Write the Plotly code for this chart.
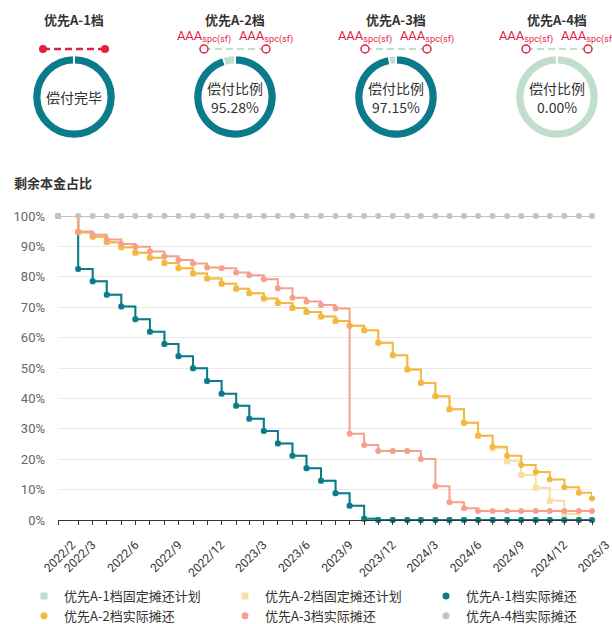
import plotly.graph_objects as go

W, H = 612, 624

# ---------------- data ----------------
tranches = ["优先A-1档", "优先A-2档", "优先A-3档", "优先A-4档"]
paid_ratio = [100.0, 95.28, 97.15, 0.00]
center_label = ["偿付完毕", "偿付比例", "偿付比例", "偿付比例"]
show_ratio = [False, True, True, True]
rating_initial = ["", "AAA", "AAA", "AAA"]
rating_current = ["", "AAA", "AAA", "AAA"]

start_date = "2022-02-11"
pay_dates = [f"{2022 + (m - 1) // 12}-{(m - 1) % 12 + 1:02d}-26" for m in range(3, 40)]
dates = [start_date] + pay_dates
label_dates = [start_date] + [d for i, d in enumerate(pay_dates) if i == 0 or int(d[5:7]) % 3 == 0]
label_text = ["2022/2"] + [f"{int(d[:4])}/{int(d[5:7])}" for d in label_dates[1:]]

a1_actual = [100, 82.6, 78.5, 74.1, 70.2, 66.0, 61.9, 57.9, 53.9, 49.9, 45.7, 41.5,
             37.6, 33.3, 29.3, 25.2, 21.1, 17.0, 12.9, 8.8, 4.7, 0.4,
             0, 0, 0, 0, 0, 0, 0, 0, 0, 0, 0, 0, 0, 0, 0, 0]
a1_plan = [100, 82.6, 78.5, 74.1, 70.2, 66.0, 61.9, 57.9, 53.9, 49.9, 45.7, 41.5,
           37.6, 33.3, 29.3, 25.2, 21.1, 17.0, 12.9, 8.8, 4.7, 0.4,
           0, 0, 0, 0, 0, 0, 0, 0, 0, 0, 0, 0, 0, 0, 0, 0]
a2_actual = [100, 94.6, 93.2, 91.4, 89.7, 87.9, 86.3, 84.5, 82.8, 81.1, 79.4, 77.7,
             76.1, 74.6, 72.9, 71.4, 69.7, 68.4, 66.9, 65.5, 63.9, 62.4, 58.3,
             54.2, 49.5, 45.1, 40.7, 36.4, 32.0, 27.7, 24.1, 21.1, 18.1, 15.8,
             13.3, 10.8, 9.0, 7.1]
a2_plan = [100, 94.6, 93.2, 91.4, 89.7, 87.9, 86.3, 84.5, 82.8, 81.1, 79.4, 77.7,
           76.1, 74.6, 72.9, 71.4, 69.7, 68.4, 66.9, 65.5, 63.9, 62.4, 58.3,
           54.2, 49.5, 45.1, 40.7, 36.4, 32.0, 27.7, 23.6, 19.3, 14.8, 10.6,
           6.3, 2.0, 0, 0]
a3_actual = [100, 94.9, 93.8, 92.3, 90.8, 89.9, 88.3, 86.8, 85.5, 84.4, 83.1, 82.8,
             81.4, 80.5, 79.2, 76.2, 73.1, 71.9, 70.7, 69.6, 28.4, 24.7, 22.7,
             22.7, 22.7, 20.1, 11.1, 5.8, 3.9, 3.0, 3.0, 3.0, 3.0, 3.0, 3.0,
             3.0, 3.0, 3.0]
a4_actual = [100] * 38

series = [
    ("优先A-1档固定摊还计划", a1_plan, "#bfdfcc", "square", 6),
    ("优先A-2档固定摊还计划", a2_plan, "#f8dfa6", "square", 6),
    ("优先A-1档实际摊还", a1_actual, "#0b7b8c", "circle", 6),
    ("优先A-2档实际摊还", a2_actual, "#f2b941", "circle", 6),
    ("优先A-3档实际摊还", a3_actual, "#f6a08c", "circle", 6),
    ("优先A-4档实际摊还", a4_actual, "#c3c3c3", "circle", 6),
]

TEAL = "#0b7b8c"
MINT = "#bfdfcc"
RED = "#e0223f"
CJK = "'Noto Sans CJK SC', Roboto, sans-serif"


def px_x(px):
    return px / W


def px_y(py):
    return 1 - py / H


fig = go.Figure()

# ---------------- main line chart ----------------
for name, vals, color, sym, size in series:
    fig.add_trace(go.Scatter(
        x=dates, y=vals, mode="lines+markers", name=name,
        line=dict(color=color, width=2, shape="hv"),
        marker=dict(color=color, size=size, symbol=sym),
        legendgroup=name, showlegend=False, cliponaxis=False,
        xaxis="x", yaxis="y",
    ))
# legend entries (marker only)
for name, vals, color, sym, size in series:
    fig.add_trace(go.Scatter(
        x=[None], y=[None], mode="markers", name=name,
        marker=dict(color=color, size=7, symbol=sym),
        legendgroup=name, showlegend=True, xaxis="x", yaxis="y",
    ))

# ---------------- donuts ----------------
col_first, col_w = 74, 161
cy, R = 97, 41.5
shapes = []
annotations = []
for i, t in enumerate(tranches):
    cx = col_first + col_w * i
    fig.add_trace(go.Pie(
        values=[paid_ratio[i], 100 - paid_ratio[i]],
        labels=["已偿付", "未偿付"],
        marker=dict(colors=[TEAL, MINT], line=dict(color="white", width=1.5)),
        hole=0.79, sort=False, direction="clockwise", rotation=0,
        textinfo="none", hoverinfo="label+percent", showlegend=False,
        domain=dict(x=[px_x(cx - R), px_x(cx + R)], y=[px_y(cy + R), px_y(cy - R)]),
    ))
    shapes.append(dict(type="line", xref="paper", yref="paper",
                       x0=px_x(cx), x1=px_x(cx), y0=px_y(cy - R - 1), y1=px_y(cy - R + 10),
                       line=dict(color="white", width=2), layer="above"))
    if show_ratio[i]:
        annotations.append(dict(text=center_label[i], x=px_x(cx), y=px_y(cy - 9),
                                xref="paper", yref="paper", showarrow=False,
                                xanchor="center", yanchor="middle",
                                font=dict(size=14, color="#333", family=CJK)))
        annotations.append(dict(text=f"{paid_ratio[i]:.2f}%", x=px_x(cx), y=px_y(cy + 10),
                                xref="paper", yref="paper", showarrow=False,
                                xanchor="center", yanchor="middle",
                                font=dict(size=14, color="#333", family=CJK)))
    else:
        annotations.append(dict(text=center_label[i], x=px_x(cx), y=px_y(cy),
                                xref="paper", yref="paper", showarrow=False,
                                xanchor="center", yanchor="middle",
                                font=dict(size=14, color="#333", family=CJK)))

# ---------------- rating markers ----------------
off = 31 / col_w
for i in range(4):
    xs = [i - off, i + off]
    if rating_initial[i] == "":
        fig.add_trace(go.Scatter(
            x=xs, y=[0, 0], mode="lines+markers",
            line=dict(color=RED, width=2.5, dash="7px,4px"),
            marker=dict(color=RED, size=8),
            showlegend=False, xaxis="x2", yaxis="y2", hoverinfo="skip", cliponaxis=False,
        ))
    else:
        fig.add_trace(go.Scatter(
            x=xs, y=[0, 0], mode="lines+markers+text",
            text=[f"{rating_initial[i]}<sub>spc(sf)</sub>", f"{rating_current[i]}<sub>spc(sf)</sub>"],
            textposition="top center",
            textfont=dict(color=RED, size=13, family="Roboto, sans-serif"),
            line=dict(color=MINT, width=2, dash="7px,4px"),
            marker=dict(color="white", size=8, line=dict(color=RED, width=1.5)),
            showlegend=False, xaxis="x2", yaxis="y2", hoverinfo="skip", cliponaxis=False,
        ))

for i, t in enumerate(tranches):
    cx = col_first + col_w * i
    annotations.append(dict(text=f"<b>{t}</b>", x=px_x(cx), y=px_y(19), xref="paper", yref="paper",
                            showarrow=False, xanchor="center", yanchor="middle",
                            font=dict(size=13, color="#333", family=CJK)))
annotations.append(dict(text="<b>剩余本金占比</b>", x=px_x(12), y=px_y(182), xref="paper", yref="paper",
                        showarrow=False, xanchor="left", yanchor="middle",
                        font=dict(size=13, color="#333", family=CJK)))

fig.update_layout(
    width=W, height=H, margin=dict(l=0, r=0, t=0, b=0, autoexpand=False),
    paper_bgcolor="white", plot_bgcolor="white",
    font=dict(family="Roboto, 'Noto Sans CJK SC', sans-serif", size=12, color="#333"),
    xaxis=dict(domain=[px_x(58), px_x(592)], type="date", range=[dates[0], dates[-1]],
               tickmode="array", tickvals=label_dates, ticktext=label_text, tickangle=-45,
               ticks="outside", ticklen=4, tickcolor="#333", showline=True,
               linecolor="#333", linewidth=1, showgrid=False, zeroline=False,
               minor=dict(tickmode="array", tickvals=dates, ticks="outside", ticklen=4,
                          tickcolor="#333", showgrid=False),
               tickfont=dict(size=12, color="#333"), automargin=False, anchor="y",
               ticklabelshift=14, ticklabelstandoff=8, ticklabeloverflow="allow"),
    yaxis=dict(domain=[px_y(520), px_y(216)], range=[0, 100],
               tickmode="array", tickvals=list(range(0, 101, 10)),
               ticktext=[f"{v}%" for v in range(0, 101, 10)],
               gridcolor="#eaeaea", gridwidth=1, showline=False, zeroline=False,
               tickfont=dict(size=13, color="#666"), automargin=False, anchor="x",
               ticklabelstandoff=12),
    xaxis2=dict(domain=[0, 1], range=[-col_first / col_w, (W - col_first) / col_w],
                visible=False, anchor="y2", fixedrange=True),
    yaxis2=dict(domain=[px_y(59), px_y(39)], range=[-1, 1], visible=False,
                anchor="x2", fixedrange=True),
    legend=dict(orientation="h", x=px_x(24), y=px_y(581), xanchor="left", yanchor="top",
                entrywidth=156, entrywidthmode="pixels", traceorder="normal",
                font=dict(size=13, color="#333", family=CJK),
                bgcolor="rgba(0,0,0,0)", itemclick=False),
    shapes=shapes,
    annotations=annotations,
)

fig.write_html(
    "out.html",
    config={"displayModeBar": False},
    post_script="document.body.style.margin='0';",
)
